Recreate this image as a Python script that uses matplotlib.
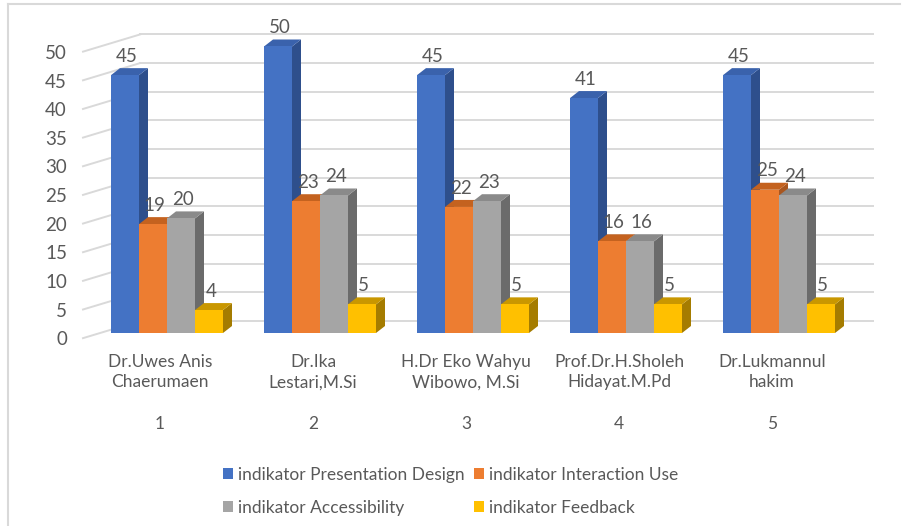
import matplotlib.pyplot as plt
from matplotlib.patches import Polygon, Patch

plt.rcParams['font.family'] = ['Lato', 'DejaVu Sans']

categories = ["1", "2", "3", "4", "5"]
names = ["Dr.Uwes Anis\nChaerumaen", "Dr.Ika\nLestari,M.Si", "H.Dr Eko Wahyu\nWibowo, M.Si",
         "Prof.Dr.H.Sholeh\nHidayat.M.Pd", "Dr.Lukmannul\nhakim"]
series_names = ["indikator Presentation Design", "indikator Interaction Use",
                "indikator Accessibility", "indikator Feedback"]
presentation = [45, 50, 45, 41, 45]
interaction = [19, 23, 22, 16, 25]
accessibility = [20, 24, 23, 16, 24]
feedback = [4, 5, 5, 5, 5]
y_ticks = [0, 5, 10, 15, 20, 25, 30, 35, 40, 45, 50]

# front, side, top colours for each series
colors = [("#4472C4", "#2E4F8C", "#3A62AC"),
          ("#ED7D31", "#A9561F", "#C4621F"),
          ("#A5A5A5", "#6B6B6B", "#8A8A8A"),
          ("#FFC000", "#A57C00", "#C99700")]
text_color = "#595959"
grid_color = "#D9D9D9"

W, H = 909, 526
fig = plt.figure(figsize=(W / 100, H / 100), dpi=100)
ax = fig.add_axes([0, 0, 1, 1])
ax.axis("off")

# axes limits chosen so one category = 153 px and one unit = 5.73 px
px_x, px_y = 153.0, 5.73
x0_px, y0_px = 167.0, 333.0
ax.set_xlim(-x0_px / px_x, (W - x0_px) / px_x)
ax.set_ylim((y0_px - H) / px_y, y0_px / px_y)

bar_w = 28 / px_x
dx, dy = 9 / px_x, 7 / px_y          # bar depth
wall_dx, wall_dy = 57 / px_x, 2.1    # back wall offset
wall_end = (873 - x0_px) / px_x
left_x = (83 - x0_px) / px_x

# frame
ax.plot([(8 - x0_px) / px_x] * 2, [(y0_px - H) / px_y, (y0_px - 4) / px_y], color=grid_color, lw=1.5)
ax.plot([(8 - x0_px) / px_x, (900 - x0_px) / px_x], [(y0_px - 4) / px_y] * 2, color=grid_color, lw=1.5)

# gridlines on back wall and side diagonals
for t in y_ticks:
    yb = t + wall_dy
    ax.plot([left_x + wall_dx, wall_end], [yb, yb], color=grid_color, lw=1.4, zorder=1)
    ax.plot([left_x, left_x + wall_dx], [t - 0.9, yb], color=grid_color, lw=1.4, zorder=1)
    ax.text(left_x - 16 / px_x, t - 1.2, str(t), ha="right", va="center",
            fontsize=13.5, color=text_color)

series = [presentation, interaction, accessibility, feedback]
for i in range(len(categories)):
    start = i - 2 * bar_w
    for s, vals in enumerate(series):
        v = vals[i]
        xl = start + s * bar_w
        xr = xl + bar_w
        front, side, top = colors[s]
        z = 3 + s
        ax.add_patch(Polygon([(xr, 0), (xr + dx, dy), (xr + dx, v + dy), (xr, v)],
                             closed=True, facecolor=side, edgecolor="none", zorder=z))
        ax.add_patch(Polygon([(xl, v), (xr, v), (xr + dx, v + dy), (xl + dx, v + dy)],
                             closed=True, facecolor=top, edgecolor="none", zorder=z))
        ax.add_patch(Polygon([(xl, 0), (xr, 0), (xr, v), (xl, v)],
                             closed=True, facecolor=front, edgecolor="none", zorder=z))
        ax.text((xl + xr) / 2 + dx * 0.2, v + dy + 0.6, str(v), ha="center", va="bottom",
                fontsize=13.5, color=text_color, zorder=10)
    lx = i - 7 / px_x
    ax.text(lx, (y0_px - 372) / px_y, names[i], ha="center", va="center",
            fontsize=12.5, color=text_color, linespacing=1.35)
    ax.text(lx, (y0_px - 424) / px_y, categories[i], ha="center", va="center",
            fontsize=12.5, color=text_color)

# legend fills column by column, so order entries to read row by row
handles = [Patch(facecolor=c[0], edgecolor="none") for c in colors]
order = [0, 2, 1, 3]
fig.legend([handles[k] for k in order], [series_names[k] for k in order],
           loc="upper left", bbox_to_anchor=(207 / W, 1 - 451 / H),
           ncol=2, frameon=False, fontsize=12.5, labelcolor=text_color,
           handlelength=0.6, handleheight=0.6, handletextpad=0.3,
           columnspacing=0.5, labelspacing=1.0)

fig.savefig("out.png", dpi=100)
